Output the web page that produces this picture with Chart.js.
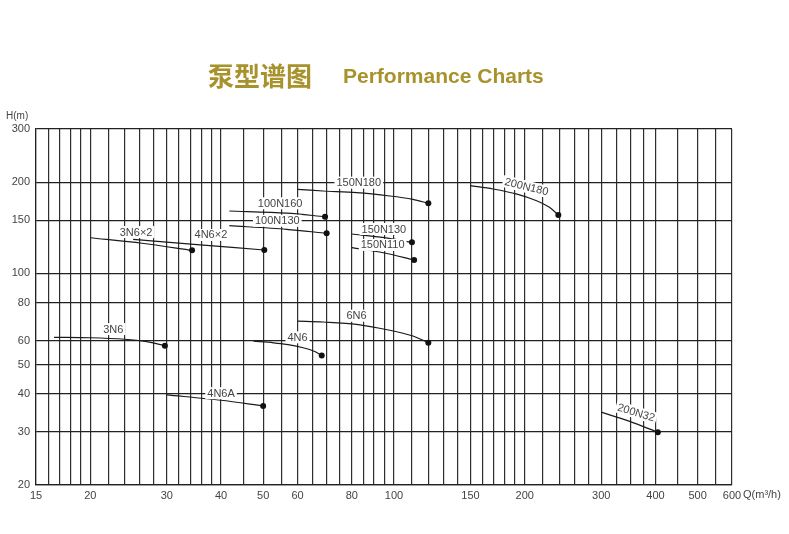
<!DOCTYPE html>
<html>
<head>
<meta charset="utf-8">
<script src="https://cdn.jsdelivr.net/npm/chart.js@4"></script>
<style>
body { margin: 0; background: #fff; }
</style>
</head>
<body>
<canvas id="chartPompe" width="789" height="534"></canvas>
<script>
const chartPompe = document.getElementById("chartPompe");

// Data : one curve per pump, Q (m3/h) and H (m)
const pumpNames = ['3N6', '4N6A', '4N6', '6N6', '3N6×2', '4N6×2', '100N160', '100N130', '150N180', '150N130', '150N110', '200N180', '200N32'];
const pumpQ = [
	[16.5, 20, 24, 27, 29.7],
	[30, 40, 50],
	[47.5, 52.8, 56.6, 61.8, 65.3, 68.2],
	[60, 68.7, 82, 97.8, 110.6, 120],
	[20, 26.3, 34.3],
	[25.1, 35.8, 50.3],
	[41.8, 56.6, 69.4],
	[41.8, 56.6, 70],
	[60, 68.7, 82, 97.8, 110.6, 120],
	[80, 95, 110],
	[80, 94.5, 111.3],
	[150, 169, 192, 213, 228, 239],
	[300, 350, 405]
];
const pumpH = [
	[61.5, 61.3, 60.6, 59.5, 57.7],
	[39.7, 38.1, 36.5],
	[59.7, 59.0, 58.3, 56.8, 55.4, 53.6],
	[69.6, 69.1, 67.9, 64.9, 62.1, 59],
	[131.2, 125.8, 119.2],
	[129.6, 124.3, 119.5],
	[160.8, 158.3, 153.9],
	[143.8, 139.9, 135.7],
	[189.6, 187.2, 184.8, 180.2, 175.7, 170.5],
	[135, 131.3, 126.7],
	[121.6, 117, 110.8],
	[194.9, 190.1, 182.9, 173.9, 165.4, 156],
	[34.8, 32.4, 29.85]
];

// where each pump name sits (Q, H) and its tilt in degrees
const labelQ = [22.6, 40, 60, 82, 25.5, 37.9, 54.7, 53.9, 83, 94.8, 94.2, 202, 361];
const labelH = [65.5, 40.2, 61.5, 72.5, 137, 134, 170.5, 149.3, 199.5, 140.2, 124.2, 193.4, 34.7];
const labelAngle = [0, 0, 0, 0, 0, 0, 0, 0, 0, 0, 0, 14, 17];

// Axis grid and tick labels
const gridQ = [15, 16, 17, 18, 19, 20, 22, 24, 26, 28, 30, 32, 34, 36, 38, 40, 45, 50, 55,
	60, 65, 70, 75, 80, 85, 90, 95, 100, 110, 120, 130, 140, 150, 160, 170, 180, 190, 200,
	220, 240, 260, 280, 300, 325, 350, 375, 400, 450, 500, 550, 600];
const tickQ = [15, 20, 30, 40, 50, 60, 80, 100, 150, 200, 300, 400, 500, 600];
const gridH = [20, 30, 40, 50, 60, 80, 100, 150, 200, 300];
const tickH = [20, 30, 40, 50, 60, 80, 100, 150, 200, 300];

const fontTxt = '"Liberation Sans", Arial, sans-serif';

let datasets = [];
pumpNames.forEach(function(name, i){
	let pts = [];
	pumpQ[i].forEach(function(q, j){
		pts.push({x: q, y: pumpH[i][j]});
	});
	datasets.push({
		label: name,
		data: pts,
		borderColor: '#1a1a1a',
		borderWidth: 1.2,
		pointRadius: pts.map(function(p, j){ return j == pts.length - 1 ? 3 : 0; }),
		pointBackgroundColor: '#111',
		pointBorderWidth: 0,
		tension: 0.3,
		fill: false
	});
});

// Names of pumps + titles
const textPlugin = {
	id: 'textPlugin',
	afterDatasetsDraw(chart) {
		const ctx = chart.ctx;
		const sx = chart.scales.x;
		const sy = chart.scales.y;
		ctx.save();
		ctx.font = '11px ' + fontTxt;
		ctx.textAlign = 'center';
		ctx.textBaseline = 'middle';
		pumpNames.forEach(function(name, i){
			const px = sx.getPixelForValue(labelQ[i]);
			const py = sy.getPixelForValue(labelH[i]);
			const w = ctx.measureText(name).width;
			ctx.save();
			ctx.translate(px, py);
			ctx.rotate(labelAngle[i] * Math.PI / 180);
			ctx.fillStyle = '#fff';
			ctx.fillRect(-w / 2 - 2, -6, w + 4, 12);
			ctx.fillStyle = '#444';
			ctx.fillText(name, 0, 0.5);
			ctx.restore();
		});
		ctx.restore();
	},
	afterDraw(chart) {
		const ctx = chart.ctx;
		ctx.save();
		ctx.textBaseline = 'middle';
		ctx.textAlign = 'left';
		ctx.fillStyle = '#a8922c';
		ctx.font = 'bold 26px "Noto Sans CJK SC"';
		ctx.fillText('泵型谱图', 208, 76);
		ctx.font = 'bold 21px ' + fontTxt;
		ctx.fillText('Performance Charts', 343, 77);
		ctx.fillStyle = '#444';
		ctx.font = '10px ' + fontTxt;
		ctx.fillText('H(m)', 6, 116);
		ctx.font = '11px ' + fontTxt;
		ctx.fillText('Q(m³/h)', 743, 495);
		ctx.restore();
	}
};

const pompeChart = new Chart(chartPompe, {
	type: 'line',
	data: { datasets: datasets },
	plugins: [textPlugin],
	options: {
		responsive: false,
		animation: false,
		layout: {
			padding: { left: 0, top: 129, right: 57, bottom: 0 }
		},
		plugins: {
			legend: { display: false },
			tooltip: { enabled: false }
		},
		scales: {
			x: {
				type: 'logarithmic',
				min: 15,
				max: 600,
				afterBuildTicks: function(scale){
					scale.ticks = gridQ.map(function(v){ return {value: v}; });
				},
				afterFit: function(scale){ scale.height = 49; },
				ticks: {
					autoSkip: false,
					maxRotation: 0,
					padding: 4,
					color: '#444',
					font: { size: 11, family: fontTxt },
					callback: function(value){
						return tickQ.includes(value) ? String(value) : '';
					}
				},
				grid: { color: '#2e2e2e', lineWidth: 1.2, drawTicks: false },
				border: { display: true, color: '#222', width: 1.2 }
			},
			y: {
				type: 'logarithmic',
				min: 20,
				max: 300,
				afterBuildTicks: function(scale){
					scale.ticks = gridH.map(function(v){ return {value: v}; });
				},
				afterFit: function(scale){ scale.width = 36; },
				ticks: {
					autoSkip: false,
					padding: 6,
					color: '#444',
					font: { size: 11, family: fontTxt },
					callback: function(value){
						return tickH.includes(value) ? String(value) : '';
					}
				},
				grid: { color: '#222', lineWidth: 1.2, drawTicks: false },
				border: { display: true, color: '#222', width: 1.2 }
			}
		}
	}
});
</script>
</body>
</html>
